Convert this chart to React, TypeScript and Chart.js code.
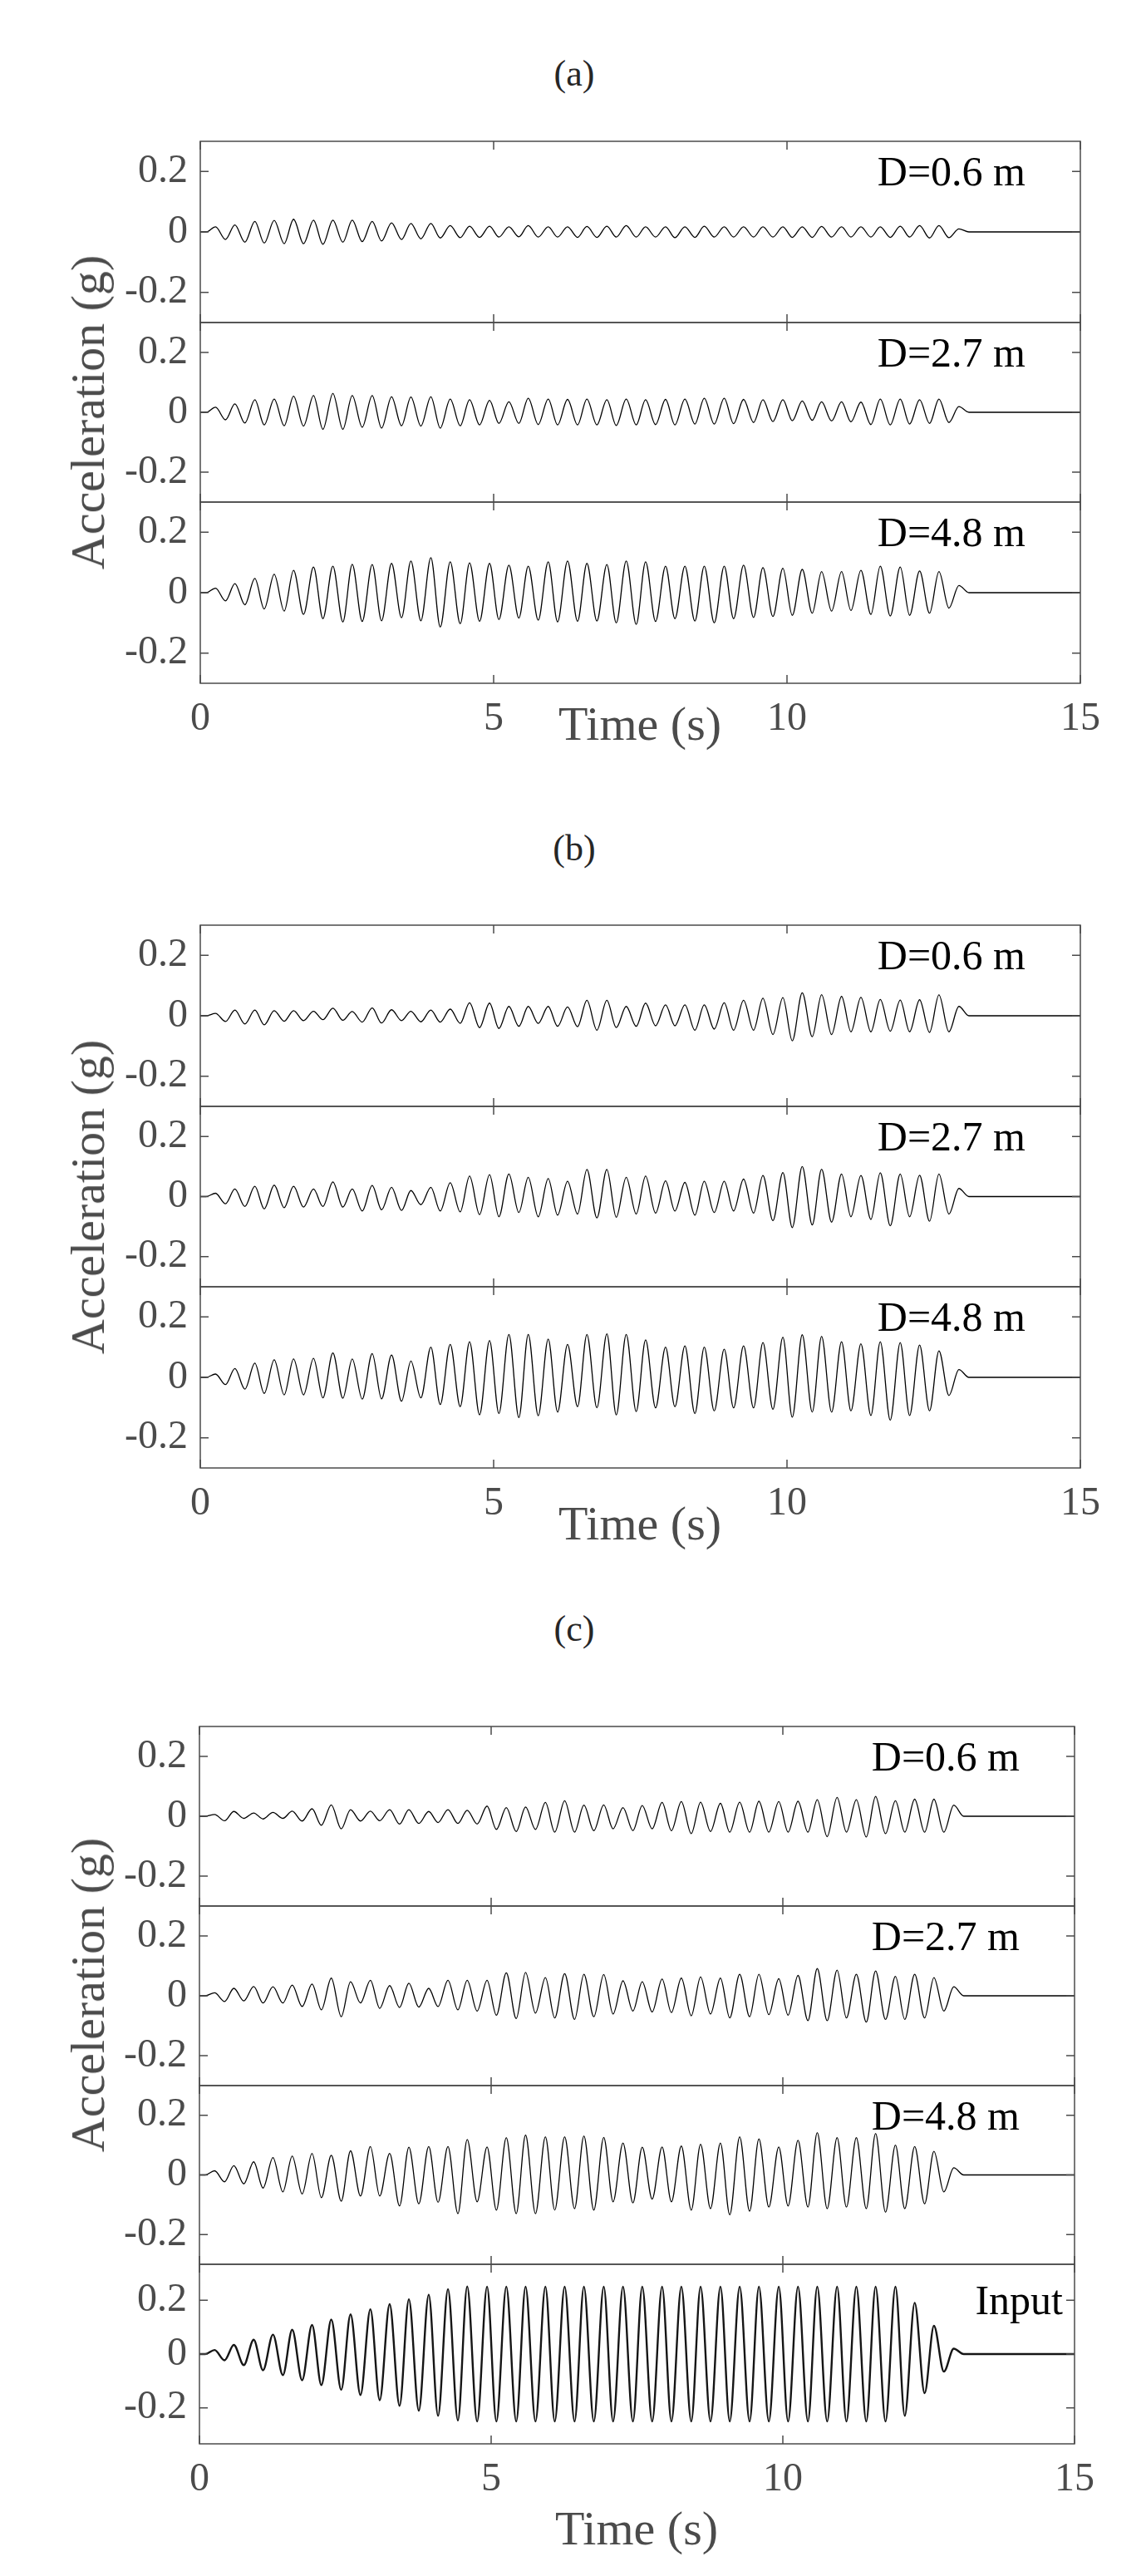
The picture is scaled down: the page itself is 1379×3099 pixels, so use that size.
import React, { useEffect, useRef } from "react";
import { Chart, registerables } from "chart.js";

Chart.register(...registerables);

// ---------------- data ----------------
const X_TICKS = [0, 5, 10, 15];
const Y_TICKS = [-0.2, 0, 0.2];
const REST_LEVEL = 0;
const LEAD_TIMES = [0, 0.1];
const TAIL_TIMES = [13.1, 15];
// times of successive extrema (peak, trough, peak, ...) in seconds
const EXTREMA_TIMES = [
  0.26, 0.43, 0.59, 0.76, 0.93, 1.09, 1.26, 1.43, 1.59, 1.76,
  1.93, 2.09, 2.26, 2.43, 2.59, 2.76, 2.93, 3.09, 3.26, 3.43,
  3.59, 3.76, 3.93, 4.09, 4.26, 4.43, 4.59, 4.76, 4.93, 5.09,
  5.26, 5.43, 5.59, 5.76, 5.93, 6.09, 6.26, 6.43, 6.59, 6.76,
  6.93, 7.09, 7.26, 7.43, 7.59, 7.76, 7.93, 8.09, 8.26, 8.43,
  8.59, 8.76, 8.93, 9.09, 9.26, 9.43, 9.59, 9.76, 9.93, 10.09,
  10.26, 10.43, 10.59, 10.76, 10.93, 11.09, 11.26, 11.43, 11.59, 11.76,
  11.93, 12.09, 12.26, 12.43, 12.59, 12.76, 12.93,
];

// (a)
const A06_PEAKS = [0.017, 0.023, 0.035, 0.038, 0.042, 0.039, 0.039, 0.039, 0.035, 0.030, 0.028, 0.028, 0.021, 0.019, 0.019, 0.017, 0.021, 0.017, 0.017, 0.018, 0.019, 0.021, 0.017, 0.017, 0.017, 0.019, 0.017, 0.017, 0.017, 0.017, 0.017, 0.018, 0.017, 0.017, 0.017, 0.019, 0.021, 0.021, 0.010];
const A06_TROUGHS = [-0.025, -0.034, -0.037, -0.039, -0.039, -0.041, -0.034, -0.032, -0.030, -0.025, -0.023, -0.020, -0.019, -0.018, -0.017, -0.016, -0.017, -0.017, -0.018, -0.018, -0.017, -0.017, -0.017, -0.019, -0.018, -0.017, -0.017, -0.017, -0.017, -0.018, -0.018, -0.017, -0.017, -0.017, -0.018, -0.017, -0.020, -0.019];
const A27_PEAKS = [0.017, 0.028, 0.042, 0.044, 0.054, 0.056, 0.063, 0.056, 0.056, 0.052, 0.051, 0.052, 0.044, 0.042, 0.040, 0.035, 0.047, 0.044, 0.043, 0.044, 0.042, 0.044, 0.042, 0.043, 0.044, 0.047, 0.047, 0.043, 0.042, 0.042, 0.038, 0.035, 0.035, 0.034, 0.044, 0.044, 0.042, 0.044, 0.019];
const A27_TROUGHS = [-0.025, -0.036, -0.042, -0.045, -0.046, -0.057, -0.057, -0.050, -0.053, -0.045, -0.046, -0.053, -0.045, -0.042, -0.037, -0.037, -0.041, -0.042, -0.042, -0.042, -0.044, -0.042, -0.041, -0.042, -0.039, -0.039, -0.038, -0.034, -0.031, -0.028, -0.027, -0.029, -0.032, -0.041, -0.042, -0.039, -0.037, -0.034];
const A48_PEAKS = [0.015, 0.030, 0.047, 0.061, 0.074, 0.085, 0.088, 0.094, 0.093, 0.097, 0.105, 0.116, 0.102, 0.099, 0.097, 0.091, 0.088, 0.102, 0.105, 0.097, 0.093, 0.105, 0.102, 0.088, 0.088, 0.088, 0.088, 0.091, 0.083, 0.081, 0.077, 0.070, 0.070, 0.074, 0.088, 0.085, 0.072, 0.070, 0.024];
const A48_TROUGHS = [-0.027, -0.040, -0.054, -0.061, -0.072, -0.086, -0.097, -0.095, -0.093, -0.083, -0.093, -0.114, -0.103, -0.095, -0.089, -0.084, -0.091, -0.097, -0.095, -0.094, -0.100, -0.105, -0.095, -0.086, -0.094, -0.100, -0.086, -0.082, -0.079, -0.075, -0.068, -0.061, -0.059, -0.072, -0.077, -0.075, -0.068, -0.051];

// (b)
const B06_PEAKS = [0.008, 0.019, 0.019, 0.017, 0.017, 0.015, 0.025, 0.014, 0.026, 0.020, 0.015, 0.019, 0.022, 0.043, 0.042, 0.031, 0.031, 0.031, 0.029, 0.051, 0.051, 0.031, 0.042, 0.036, 0.036, 0.036, 0.043, 0.051, 0.058, 0.060, 0.076, 0.070, 0.064, 0.061, 0.054, 0.052, 0.053, 0.069, 0.031];
const B06_TROUGHS = [-0.019, -0.027, -0.030, -0.018, -0.016, -0.013, -0.015, -0.021, -0.024, -0.016, -0.020, -0.021, -0.025, -0.039, -0.042, -0.035, -0.025, -0.035, -0.036, -0.048, -0.039, -0.035, -0.033, -0.033, -0.048, -0.044, -0.048, -0.048, -0.062, -0.083, -0.069, -0.062, -0.053, -0.053, -0.051, -0.053, -0.055, -0.053];
const B27_PEAKS = [0.011, 0.025, 0.034, 0.038, 0.034, 0.025, 0.049, 0.025, 0.037, 0.031, 0.020, 0.031, 0.046, 0.068, 0.073, 0.075, 0.064, 0.060, 0.051, 0.090, 0.090, 0.064, 0.068, 0.052, 0.047, 0.051, 0.051, 0.058, 0.070, 0.080, 0.100, 0.091, 0.075, 0.070, 0.079, 0.075, 0.071, 0.075, 0.027];
const B27_TROUGHS = [-0.024, -0.033, -0.041, -0.037, -0.035, -0.033, -0.035, -0.048, -0.044, -0.046, -0.027, -0.048, -0.051, -0.060, -0.067, -0.053, -0.067, -0.062, -0.058, -0.071, -0.069, -0.058, -0.055, -0.048, -0.062, -0.053, -0.048, -0.055, -0.080, -0.103, -0.094, -0.085, -0.067, -0.076, -0.097, -0.067, -0.082, -0.058];
const B48_PEAKS = [0.011, 0.029, 0.047, 0.058, 0.061, 0.063, 0.081, 0.061, 0.079, 0.074, 0.054, 0.100, 0.109, 0.118, 0.122, 0.142, 0.142, 0.127, 0.109, 0.142, 0.144, 0.142, 0.124, 0.100, 0.104, 0.100, 0.093, 0.104, 0.115, 0.133, 0.141, 0.136, 0.118, 0.111, 0.118, 0.115, 0.107, 0.088, 0.026];
const B48_TROUGHS = [-0.024, -0.039, -0.053, -0.058, -0.058, -0.068, -0.069, -0.072, -0.071, -0.079, -0.068, -0.090, -0.097, -0.124, -0.120, -0.133, -0.127, -0.115, -0.097, -0.101, -0.124, -0.113, -0.101, -0.097, -0.120, -0.111, -0.101, -0.101, -0.106, -0.132, -0.115, -0.115, -0.111, -0.126, -0.142, -0.126, -0.111, -0.060];

// (c)
const C06_PEAKS = [0.006, 0.016, 0.011, 0.013, 0.017, 0.025, 0.038, 0.022, 0.017, 0.022, 0.022, 0.016, 0.022, 0.020, 0.034, 0.029, 0.031, 0.046, 0.052, 0.037, 0.038, 0.029, 0.036, 0.046, 0.049, 0.047, 0.043, 0.047, 0.050, 0.049, 0.050, 0.055, 0.063, 0.055, 0.066, 0.052, 0.057, 0.057, 0.037];
const C06_TROUGHS = [-0.015, -0.007, -0.009, -0.007, -0.016, -0.030, -0.042, -0.016, -0.015, -0.026, -0.024, -0.021, -0.024, -0.026, -0.044, -0.051, -0.044, -0.053, -0.053, -0.048, -0.042, -0.048, -0.042, -0.048, -0.058, -0.051, -0.053, -0.053, -0.053, -0.053, -0.053, -0.068, -0.053, -0.069, -0.058, -0.053, -0.053, -0.053];
const C27_PEAKS = [0.010, 0.025, 0.031, 0.030, 0.036, 0.039, 0.059, 0.047, 0.052, 0.034, 0.042, 0.025, 0.052, 0.052, 0.052, 0.077, 0.078, 0.061, 0.074, 0.072, 0.071, 0.050, 0.047, 0.056, 0.059, 0.063, 0.059, 0.072, 0.072, 0.057, 0.068, 0.091, 0.086, 0.072, 0.083, 0.065, 0.072, 0.061, 0.030];
const C27_TROUGHS = [-0.019, -0.017, -0.024, -0.024, -0.036, -0.047, -0.070, -0.024, -0.042, -0.039, -0.038, -0.036, -0.047, -0.051, -0.065, -0.076, -0.058, -0.074, -0.079, -0.070, -0.061, -0.051, -0.054, -0.056, -0.067, -0.061, -0.074, -0.070, -0.063, -0.065, -0.083, -0.083, -0.074, -0.088, -0.079, -0.079, -0.074, -0.051];
const C48_PEAKS = [0.014, 0.031, 0.044, 0.058, 0.063, 0.072, 0.066, 0.081, 0.095, 0.072, 0.093, 0.095, 0.095, 0.119, 0.094, 0.125, 0.134, 0.128, 0.128, 0.131, 0.126, 0.107, 0.093, 0.094, 0.097, 0.103, 0.107, 0.128, 0.121, 0.094, 0.116, 0.142, 0.125, 0.125, 0.139, 0.100, 0.095, 0.079, 0.024];
const C48_TROUGHS = [-0.023, -0.030, -0.044, -0.057, -0.064, -0.076, -0.088, -0.071, -0.071, -0.104, -0.097, -0.092, -0.130, -0.090, -0.118, -0.130, -0.130, -0.118, -0.113, -0.118, -0.090, -0.094, -0.081, -0.090, -0.118, -0.113, -0.134, -0.122, -0.108, -0.104, -0.108, -0.113, -0.108, -0.113, -0.125, -0.113, -0.097, -0.057];
const INPUT_PEAKS = [
  0.015, 0.034, 0.053, 0.072, 0.090, 0.108, 0.128, 0.147, 0.166, 0.185,
  0.203, 0.220, 0.241, 0.251, 0.250, 0.250, 0.250, 0.250, 0.250, 0.250,
  0.250, 0.250, 0.250, 0.250, 0.250, 0.250, 0.250, 0.250, 0.250, 0.250,
  0.250, 0.250, 0.250, 0.250, 0.250, 0.250, 0.190, 0.105, 0.020,
];
const INPUT_TROUGHS = [
  -0.023, -0.041, -0.060, -0.078, -0.097, -0.115, -0.133, -0.152, -0.171, -0.192,
  -0.210, -0.229, -0.246, -0.250, -0.250, -0.250, -0.250, -0.250, -0.250, -0.250,
  -0.250, -0.250, -0.250, -0.250, -0.250, -0.250, -0.250, -0.250, -0.250, -0.250,
  -0.250, -0.250, -0.250, -0.250, -0.250, -0.229, -0.145, -0.065,
];

const DEPTH_LABELS = ["D=0.6 m", "D=2.7 m", "D=4.8 m"];
const INPUT_LABEL = "Input";
const PANEL_TITLES = ["(a)", "(b)", "(c)"];
const X_TITLE = "Time (s)";
const Y_TITLE = "Acceleration (g)";

// ---------------- styling / layout ----------------
const PAGE_W = 1379;
const PAGE_H = 3099;
const FONT = "'Liberation Serif', 'Times New Roman', Times, serif";
const AXIS_GRAY = "#4b4b4b";
const PAD = 3;
const X_AXIS_H = 80;
const TICK_LEN = 10;
const LABEL_LEVEL = 0.19;

type Spec = {
  id: string;
  top: number;
  bottom: number;
  left: number;
  right: number;
  yMax: number;
  peaks: number[];
  troughs: number[];
  label: string;
  labelInset: number;
  xLabels: boolean;
  lineWidth: number;
  lineColor: string;
};

const SPECS: Spec[] = [
  { id: "a1", top: 170, bottom: 388, left: 241, right: 1300, yMax: 0.3, peaks: A06_PEAKS, troughs: A06_TROUGHS, label: DEPTH_LABELS[0], labelInset: 66, xLabels: false, lineWidth: 1.3, lineColor: "#000" },
  { id: "a2", top: 388, bottom: 604, left: 241, right: 1300, yMax: 0.3, peaks: A27_PEAKS, troughs: A27_TROUGHS, label: DEPTH_LABELS[1], labelInset: 66, xLabels: false, lineWidth: 1.3, lineColor: "#000" },
  { id: "a3", top: 604, bottom: 822, left: 241, right: 1300, yMax: 0.3, peaks: A48_PEAKS, troughs: A48_TROUGHS, label: DEPTH_LABELS[2], labelInset: 66, xLabels: true, lineWidth: 1.3, lineColor: "#000" },
  { id: "b1", top: 1113, bottom: 1331, left: 241, right: 1300, yMax: 0.3, peaks: B06_PEAKS, troughs: B06_TROUGHS, label: DEPTH_LABELS[0], labelInset: 66, xLabels: false, lineWidth: 1.3, lineColor: "#000" },
  { id: "b2", top: 1331, bottom: 1548, left: 241, right: 1300, yMax: 0.3, peaks: B27_PEAKS, troughs: B27_TROUGHS, label: DEPTH_LABELS[1], labelInset: 66, xLabels: false, lineWidth: 1.3, lineColor: "#000" },
  { id: "b3", top: 1548, bottom: 1766, left: 241, right: 1300, yMax: 0.3, peaks: B48_PEAKS, troughs: B48_TROUGHS, label: DEPTH_LABELS[2], labelInset: 66, xLabels: true, lineWidth: 1.3, lineColor: "#000" },
  { id: "c1", top: 2077, bottom: 2293, left: 240, right: 1293, yMax: 0.3, peaks: C06_PEAKS, troughs: C06_TROUGHS, label: DEPTH_LABELS[0], labelInset: 66, xLabels: false, lineWidth: 1.3, lineColor: "#000" },
  { id: "c2", top: 2293, bottom: 2509, left: 240, right: 1293, yMax: 0.3, peaks: C27_PEAKS, troughs: C27_TROUGHS, label: DEPTH_LABELS[1], labelInset: 66, xLabels: false, lineWidth: 1.3, lineColor: "#000" },
  { id: "c3", top: 2509, bottom: 2724, left: 240, right: 1293, yMax: 0.3, peaks: C48_PEAKS, troughs: C48_TROUGHS, label: DEPTH_LABELS[2], labelInset: 66, xLabels: false, lineWidth: 1.3, lineColor: "#000" },
  { id: "c4", top: 2724, bottom: 2940, left: 240, right: 1293, yMax: 0.333, peaks: INPUT_PEAKS, troughs: INPUT_TROUGHS, label: INPUT_LABEL, labelInset: 14, xLabels: true, lineWidth: 2.4, lineColor: "#151515" },
];

type TextSpec = { text: string; x: number; y: number; size: number; color: string; rotate?: boolean };
const TEXTS: TextSpec[] = [
  { text: PANEL_TITLES[0], x: 691, y: 89, size: 44, color: "#262626" },
  { text: PANEL_TITLES[1], x: 691, y: 1021, size: 44, color: "#262626" },
  { text: PANEL_TITLES[2], x: 691, y: 1960, size: 44, color: "#262626" },
  { text: X_TITLE, x: 770, y: 871, size: 58, color: AXIS_GRAY },
  { text: X_TITLE, x: 770, y: 1833, size: 58, color: AXIS_GRAY },
  { text: X_TITLE, x: 766, y: 3042, size: 58, color: AXIS_GRAY },
  { text: Y_TITLE, x: 106, y: 496, size: 58, color: AXIS_GRAY, rotate: true },
  { text: Y_TITLE, x: 106, y: 1440, size: 58, color: AXIS_GRAY, rotate: true },
  { text: Y_TITLE, x: 106, y: 2400, size: 58, color: AXIS_GRAY, rotate: true },
];

function buildSeries(peaks: number[], troughs: number[]) {
  const pts: { x: number; y: number }[] = LEAD_TIMES.map((t) => ({ x: t, y: REST_LEVEL }));
  EXTREMA_TIMES.forEach((t, i) => {
    const v = i % 2 === 0 ? peaks[i / 2] : troughs[(i - 1) / 2];
    pts.push({ x: t, y: v });
  });
  TAIL_TIMES.forEach((t) => pts.push({ x: t, y: REST_LEVEL }));
  return pts;
}

const framePlugin = {
  id: "matlabFrame",
  afterDatasetsDraw(chart: any) {
    const { ctx, chartArea, scales } = chart;
    const { left, right, top, bottom } = chartArea;
    ctx.save();
    ctx.strokeStyle = AXIS_GRAY;
    ctx.lineWidth = 1.5;
    ctx.strokeRect(left, top, right - left, bottom - top);
    ctx.beginPath();
    X_TICKS.forEach((v) => {
      const px = scales.x.getPixelForValue(v);
      ctx.moveTo(px, bottom);
      ctx.lineTo(px, bottom - TICK_LEN);
      ctx.moveTo(px, top);
      ctx.lineTo(px, top + TICK_LEN);
    });
    Y_TICKS.forEach((v) => {
      const py = scales.y.getPixelForValue(v);
      ctx.moveTo(left, py);
      ctx.lineTo(left + TICK_LEN, py);
      ctx.moveTo(right, py);
      ctx.lineTo(right - TICK_LEN, py);
    });
    ctx.stroke();
    ctx.restore();
  },
};

function makeLabelPlugin(text: string, inset: number) {
  return {
    id: "cornerLabel",
    afterDraw(chart: any) {
      const { ctx, chartArea, scales } = chart;
      ctx.save();
      ctx.font = `50px ${FONT}`;
      ctx.fillStyle = "#000";
      ctx.textAlign = "right";
      ctx.textBaseline = "middle";
      ctx.fillText(text, chartArea.right - inset, scales.y.getPixelForValue(LABEL_LEVEL));
      ctx.restore();
    },
  };
}

function zeroPadding(axis: any) {
  axis.paddingTop = 0;
  axis.paddingBottom = 0;
  axis.paddingLeft = 0;
  axis.paddingRight = 0;
}

function Subplot({ spec }: { spec: Spec }) {
  const ref = useRef<HTMLCanvasElement>(null);
  const frameH = spec.bottom - spec.top;
  const bottomSpace = spec.xLabels ? X_AXIS_H : PAD;
  const h = frameH + PAD + bottomSpace;

  useEffect(() => {
    const canvas = ref.current;
    if (!canvas) return;
    const chart = new Chart(canvas, {
      type: "line",
      data: {
        datasets: [
          {
            data: buildSeries(spec.peaks, spec.troughs),
            borderColor: spec.lineColor,
            borderWidth: spec.lineWidth,
            pointRadius: 0,
            fill: false,
            cubicInterpolationMode: "monotone",
          },
        ],
      },
      options: {
        responsive: false,
        animation: false,
        devicePixelRatio: 1,
        layout: {
          padding: { top: PAD, bottom: spec.xLabels ? 0 : PAD, left: 0, right: PAGE_W - spec.right },
        },
        plugins: {
          legend: { display: false },
          tooltip: { enabled: false },
          title: { display: false },
        },
        scales: {
          x: {
            type: "linear",
            min: 0,
            max: 15,
            display: spec.xLabels,
            grid: { display: false, drawTicks: false },
            border: { display: false },
            ticks: {
              font: { family: FONT, size: 48, lineHeight: 1 },
              color: AXIS_GRAY,
              padding: 19,
              autoSkip: false,
              maxRotation: 0,
              callback: (v: any) => String(v),
            },
            afterBuildTicks: (axis: any) => {
              axis.ticks = X_TICKS.map((v) => ({ value: v }));
            },
            afterFit: (axis: any) => {
              axis.height = spec.xLabels ? X_AXIS_H : 0;
              zeroPadding(axis);
            },
          },
          y: {
            type: "linear",
            min: -spec.yMax,
            max: spec.yMax,
            grid: { display: false, drawTicks: false },
            border: { display: false },
            ticks: {
              font: { family: FONT, size: 48, lineHeight: 1 },
              color: AXIS_GRAY,
              padding: 15,
              autoSkip: false,
              callback: (v: any) => (Number(v) === 0 ? "0" : Number(v).toFixed(1)),
            },
            afterBuildTicks: (axis: any) => {
              axis.ticks = Y_TICKS.map((v) => ({ value: v }));
            },
            afterFit: (axis: any) => {
              axis.width = spec.left;
              zeroPadding(axis);
            },
          },
        },
      } as any,
      plugins: [framePlugin, makeLabelPlugin(spec.label, spec.labelInset)],
    });
    return () => chart.destroy();
  }, [spec]);

  return (
    <canvas
      ref={ref}
      width={PAGE_W}
      height={h}
      style={{ position: "absolute", left: 0, top: spec.top - PAD, width: PAGE_W, height: h }}
    />
  );
}

export default function App() {
  return (
    <div
      style={{
        position: "absolute",
        left: 0,
        top: 0,
        width: PAGE_W,
        height: PAGE_H,
        background: "#fff",
        overflow: "hidden",
        fontFamily: FONT,
      }}
    >
      {SPECS.map((s) => (
        <Subplot key={s.id} spec={s} />
      ))}
      {TEXTS.map((t, i) => (
        <div
          key={i}
          style={{
            position: "absolute",
            left: t.x,
            top: t.y,
            transform: `translate(-50%, -50%)${t.rotate ? " rotate(-90deg)" : ""}`,
            fontSize: t.size,
            lineHeight: 1,
            color: t.color,
            whiteSpace: "nowrap",
            fontFamily: FONT,
          }}
        >
          {t.text}
        </div>
      ))}
    </div>
  );
}
